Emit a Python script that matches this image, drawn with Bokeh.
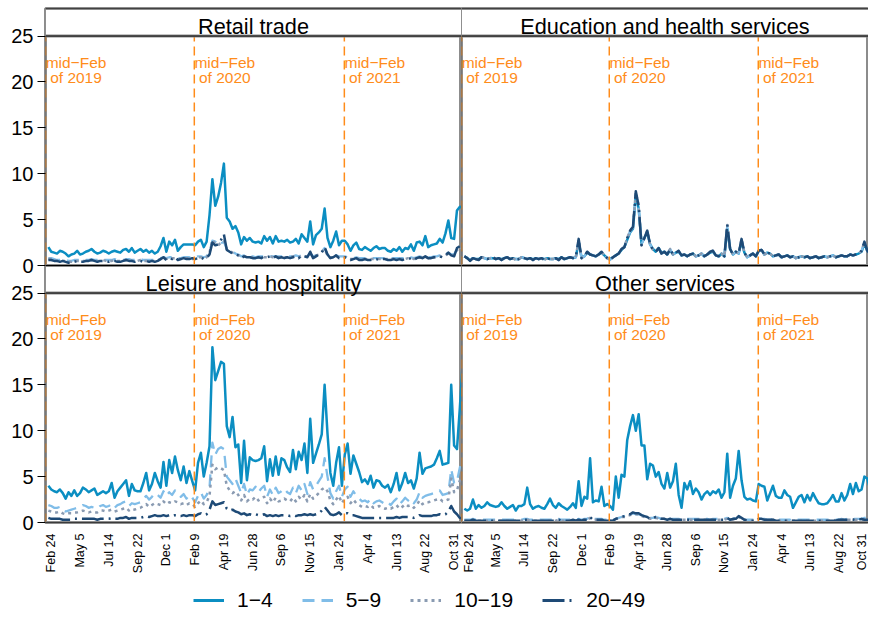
import math
import pandas as pd
from bokeh.plotting import figure
from bokeh.layouts import column, row
from bokeh.models import (Range1d, FixedTicker, Span, BoxAnnotation, Legend,
                          LegendItem, Label)
from bokeh.core.properties import value
from bokeh.embed import file_html
from bokeh.resources import INLINE

# ---------------- data ----------------
start_date = "2019-02-17"          # weekly observations
series_names = ["1\u22124", "5\u22129", "10\u221219", "20\u221249"]
panel_titles = ["Retail trade", "Education and health services",
                "Leisure and hospitality", "Other services"]
tick_dates = ["2019-02-24", "2019-05-05", "2019-07-14", "2019-09-22", "2019-12-01",
              "2020-02-09", "2020-04-19", "2020-06-28", "2020-09-06", "2020-11-15",
              "2021-01-24", "2021-04-04", "2021-06-13", "2021-08-22", "2021-10-31"]
tick_labels = ["Feb 24", "May 5", "Jul 14", "Sep 22", "Dec 1", "Feb 9", "Apr 19",
               "Jun 28", "Sep 6", "Nov 15", "Jan 24", "Apr 4", "Jun 13", "Aug 22", "Oct 31"]
midfeb_dates = ["2019-02-10", "2020-02-07", "2021-02-06"]
midfeb_line1 = ["mid\u2212Feb", "mid\u2212Feb", "mid\u2212Feb"]
midfeb_line2 = ["of 2019", "of 2020", "of 2021"]
y_ticks = [0, 5, 10, 15, 20, 25]

retail_1_4 = [2.0,
 1.5,1.4,1.3,1.6,1.5,1.3,1.0,1.2,1.3,1.6,
 1.2,1.3,1.5,1.6,1.8,1.5,1.3,1.4,1.6,1.5,
 1.3,1.5,1.6,1.5,1.4,1.7,1.8,1.5,1.9,1.4,
 1.6,1.8,1.5,1.7,1.4,1.6,1.3,1.5,2.1,3.0,
 1.5,2.6,2.2,2.8,1.6,2.0,2.3,2.3,2.3,2.3,
 2.2,2.6,2.8,2.0,2.6,5.5,9.4,6.5,7.5,9.0,
 11.1,5.2,4.8,4.0,4.3,3.6,2.3,3.1,2.7,3.0,
 2.6,2.5,2.6,2.4,3.2,2.7,3.1,2.4,3.2,2.6,
 2.7,2.6,2.8,2.5,2.6,2.9,2.4,3.4,3.0,2.6,
 4.8,2.3,3.3,3.6,4.0,6.2,3.0,2.0,2.7,3.7,
 2.2,2.7,2.7,2.3,1.6,2.2,2.5,1.8,1.7,2.0,
 1.8,1.6,1.9,2.1,1.8,1.9,1.9,1.6,1.5,1.8,
 1.6,2.0,1.5,1.9,1.8,2.3,1.6,2.5,2.6,2.2,
 3.2,2.0,2.2,2.3,2.4,2.9,2.5,3.5,4.9,3.0,
 2.9,6.0,6.4,6.3]
retail_5_9 = [0.8,
 0.8,0.7,0.6,0.6,0.6,0.6,0.5,0.5,0.6,0.6,
 0.6,0.6,0.6,0.6,0.7,0.6,0.6,0.6,0.7,0.6,
 0.6,0.6,0.7,0.6,0.6,0.6,0.7,0.7,0.6,0.6,
 0.6,0.7,0.6,0.6,0.6,0.6,0.6,0.7,0.8,0.9,
 0.8,0.9,0.9,0.9,0.8,0.8,0.9,0.9,0.9,0.8,
 0.9,1.0,1.0,0.9,1.0,1.5,2.7,2.6,2.2,2.4,
 2.6,1.8,1.6,1.5,1.3,1.2,1.0,1.1,1.0,1.0,
 1.0,0.9,1.0,1.0,1.0,1.0,1.0,1.0,1.0,1.0,
 1.0,1.0,1.0,1.0,1.0,1.1,1.0,1.1,1.1,1.0,
 1.3,1.0,1.1,1.2,1.5,1.9,1.2,1.0,1.0,1.1,
 1.0,1.0,1.0,0.9,0.8,0.8,0.9,0.8,0.8,0.8,
 0.8,0.8,0.8,0.8,0.8,0.8,0.8,0.8,0.8,0.8,
 0.8,0.8,0.8,0.8,0.9,0.9,0.8,0.9,1.0,0.9,
 1.0,0.9,0.9,1.0,1.0,1.1,1.0,1.2,1.4,1.2,
 1.2,1.8,2.0,1.9]
retail_10_19 = [0.7,
 0.7,0.6,0.5,0.5,0.5,0.5,0.4,0.4,0.5,0.5,
 0.5,0.5,0.5,0.6,0.6,0.5,0.5,0.5,0.6,0.5,
 0.5,0.5,0.6,0.5,0.5,0.5,0.6,0.6,0.5,0.5,
 0.5,0.6,0.5,0.5,0.5,0.5,0.5,0.6,0.7,0.8,
 0.7,0.8,0.8,0.8,0.7,0.7,0.8,0.8,0.8,0.7,
 0.8,0.9,0.9,0.8,0.9,1.4,2.8,2.3,2.2,2.5,
 2.7,1.8,1.6,1.4,1.3,1.1,0.9,1.0,1.0,0.9,
 0.9,0.8,0.9,0.9,0.9,0.9,1.0,0.9,0.9,0.9,
 0.9,0.9,0.9,0.9,1.0,1.0,0.9,1.0,1.0,1.0,
 1.3,0.9,1.1,1.2,1.5,1.8,1.1,0.9,0.9,1.0,
 0.9,0.9,0.9,0.8,0.7,0.7,0.8,0.7,0.7,0.7,
 0.7,0.7,0.7,0.7,0.7,0.7,0.7,0.7,0.7,0.7,
 0.7,0.7,0.7,0.7,0.8,0.8,0.7,0.8,0.9,0.8,
 0.9,0.8,0.8,0.9,0.9,1.0,0.9,1.1,1.3,1.1,
 1.1,1.7,1.9,1.8]
retail_20_49 = [0.6,
 0.6,0.5,0.5,0.4,0.5,0.4,0.3,0.4,0.4,0.5,
 0.4,0.4,0.5,0.5,0.6,0.5,0.4,0.5,0.5,0.5,
 0.4,0.5,0.5,0.4,0.4,0.5,0.6,0.5,0.5,0.4,
 0.5,0.5,0.4,0.5,0.4,0.5,0.4,0.5,0.7,0.9,
 0.6,0.8,0.7,0.9,0.6,0.7,0.8,0.7,0.7,0.8,
 0.7,0.8,0.9,0.7,0.8,1.2,2.5,2.2,2.3,2.8,
 3.4,1.7,1.5,1.3,1.2,1.1,0.8,1.0,0.9,0.9,
 0.8,0.8,0.9,0.8,1.0,0.9,1.0,0.8,1.0,0.8,
 0.9,0.8,0.9,0.8,0.9,1.0,0.8,1.1,1.0,0.9,
 1.5,0.8,1.0,1.2,1.4,2.0,1.2,0.8,0.9,1.1,
 0.8,0.9,0.9,0.8,0.6,0.7,0.8,0.6,0.6,0.7,
 0.6,0.6,0.7,0.7,0.6,0.7,0.7,0.6,0.6,0.7,
 0.6,0.7,0.6,0.7,0.7,0.8,0.6,0.8,0.9,0.8,
 1.0,0.8,0.8,0.9,0.9,1.0,0.9,1.1,1.4,1.1,
 1.0,1.9,2.1,2.0]

educ_1_4 = [1.0,
 0.8,0.6,0.8,0.7,0.7,0.9,0.8,0.7,0.8,0.8,
 0.7,0.8,0.7,0.8,0.9,0.7,0.8,0.7,0.7,0.9,
 0.8,0.7,0.8,0.7,0.8,0.7,0.8,0.7,0.8,0.7,
 0.7,0.8,0.7,0.9,0.7,0.8,0.9,0.8,0.9,2.6,
 0.9,1.0,1.4,1.2,1.1,1.0,1.2,1.4,1.1,0.8,
 0.7,0.9,1.1,1.3,1.7,2.0,2.8,3.6,4.0,7.6,
 6.2,2.4,3.0,3.6,2.3,1.8,1.5,1.9,1.4,1.5,
 1.2,1.7,1.2,1.4,1.5,1.1,1.2,1.0,1.2,1.3,
 1.0,1.1,1.3,1.0,1.2,1.4,1.5,1.1,1.0,1.3,
 1.0,4.0,1.8,1.2,1.5,1.3,2.6,1.4,0.9,1.1,
 1.3,1.0,1.6,1.7,1.2,1.4,1.3,1.0,1.1,1.2,
 0.9,1.0,1.1,0.9,1.0,0.8,0.9,1.0,0.9,1.0,
 0.8,0.9,1.0,0.8,0.9,1.0,0.9,1.0,1.1,0.9,
 1.0,1.1,1.0,1.0,1.2,1.1,1.2,1.3,1.5,2.4,
 1.6,1.3,1.2,1.2]
educ_5_9 = [1.0,
 0.8,0.6,0.8,0.7,0.6,0.9,0.8,0.7,0.8,0.9,
 0.7,0.8,0.6,0.8,0.9,0.7,0.8,0.7,0.7,0.9,
 0.8,0.7,0.8,0.6,0.8,0.7,0.8,0.7,0.8,0.7,
 0.7,0.8,0.6,0.9,0.7,0.8,0.9,0.8,0.9,2.7,
 0.8,1.0,1.5,1.2,1.1,1.0,1.2,1.5,1.1,0.8,
 0.6,0.9,1.1,1.3,1.8,2.0,2.9,3.7,4.1,7.8,
 6.4,2.3,3.0,3.7,2.3,1.7,1.5,1.9,1.3,1.5,
 1.2,1.8,1.2,1.4,1.6,1.1,1.2,1.0,1.2,1.3,
 1.0,1.1,1.3,1.0,1.2,1.5,1.6,1.1,1.0,1.3,
 1.0,4.2,1.8,1.2,1.5,1.3,2.8,1.4,0.9,1.1,
 1.3,1.0,1.6,1.7,1.2,1.4,1.3,1.0,1.1,1.2,
 0.9,1.0,1.1,0.9,1.0,0.8,0.9,1.0,0.9,1.0,
 0.8,0.9,1.0,0.8,0.9,1.0,0.9,1.0,1.1,0.9,
 1.0,1.1,1.0,1.0,1.2,1.1,1.2,1.3,1.6,2.5,
 1.6,1.3,1.2,1.2]
educ_10_19 = [1.0,
 0.8,0.5,0.8,0.7,0.6,0.9,0.8,0.7,0.8,0.9,
 0.7,0.8,0.6,0.8,0.9,0.7,0.8,0.6,0.7,0.9,
 0.8,0.7,0.8,0.6,0.8,0.7,0.8,0.6,0.8,0.7,
 0.7,0.8,0.6,0.9,0.7,0.8,0.9,0.8,0.9,2.8,
 0.8,1.0,1.5,1.2,1.1,1.0,1.2,1.5,1.1,0.8,
 0.6,0.9,1.1,1.3,1.8,2.0,3.0,3.8,4.2,8.0,
 6.5,2.2,3.0,3.8,2.3,1.7,1.5,1.9,1.3,1.5,
 1.2,1.8,1.2,1.4,1.6,1.1,1.2,1.0,1.2,1.3,
 1.0,1.1,1.3,1.0,1.2,1.5,1.6,1.1,1.0,1.3,
 1.0,4.4,1.8,1.2,1.5,1.3,2.9,1.4,0.9,1.1,
 1.3,1.0,1.6,1.7,1.2,1.4,1.3,1.0,1.1,1.2,
 0.9,1.0,1.1,0.9,1.0,0.8,0.9,1.0,0.9,1.0,
 0.8,0.9,1.0,0.8,0.9,1.0,0.9,1.0,1.1,0.9,
 1.0,1.1,1.0,1.0,1.2,1.1,1.2,1.3,1.6,2.6,
 1.6,1.3,1.2,1.2]
educ_20_49 = [1.0,
 0.8,0.5,0.8,0.7,0.6,0.9,0.8,0.7,0.8,0.9,
 0.7,0.8,0.6,0.8,0.9,0.7,0.8,0.6,0.7,0.9,
 0.8,0.7,0.8,0.6,0.8,0.7,0.8,0.6,0.8,0.7,
 0.7,0.8,0.6,0.9,0.7,0.8,0.9,0.8,0.9,2.9,
 0.8,1.0,1.5,1.2,1.1,1.0,1.2,1.5,1.1,0.8,
 0.6,0.9,1.1,1.3,1.8,2.0,3.0,3.8,4.2,8.1,
 6.5,2.2,3.0,3.8,2.3,1.7,1.5,1.9,1.3,1.5,
 1.2,1.8,1.2,1.4,1.6,1.1,1.2,1.0,1.2,1.3,
 1.0,1.1,1.3,1.0,1.2,1.5,1.6,1.1,1.0,1.3,
 1.0,4.5,1.8,1.2,1.5,1.3,2.9,1.4,0.9,1.1,
 1.3,1.0,1.6,1.7,1.2,1.4,1.3,1.0,1.1,1.2,
 0.9,1.0,1.1,0.9,1.0,0.8,0.9,1.0,0.9,1.0,
 0.8,0.9,1.0,0.8,0.9,1.0,0.9,1.0,1.1,0.9,
 1.0,1.1,1.0,1.0,1.2,1.1,1.2,1.3,1.6,2.6,
 1.6,1.3,1.2,1.2]

leisure_1_4 = [4.0,
 3.6,3.4,3.3,3.6,3.2,2.6,3.3,2.9,3.5,2.9,
 3.2,3.8,3.6,3.3,3.5,3.7,3.0,3.2,3.4,3.2,
 3.4,4.3,2.7,3.4,3.8,4.2,4.6,2.9,4.2,3.5,
 3.4,3.4,4.3,5.4,3.5,4.2,5.4,4.5,3.8,6.6,
 4.0,6.8,5.4,7.2,5.7,4.6,6.1,4.3,5.6,4.5,
 3.5,6.5,7.6,5.0,6.5,8.3,19.1,15.5,16.5,17.5,
 17.3,10.5,9.3,11.5,8.2,8.5,4.3,8.9,4.6,7.1,
 6.8,6.7,6.8,7.0,8.3,4.5,6.9,5.1,7.2,5.2,
 7.0,6.8,6.0,5.5,7.9,5.8,7.7,6.8,8.6,5.4,
 11.3,6.5,7.5,8.5,9.6,15.0,9.7,5.4,4.0,6.5,
 8.2,4.0,7.4,8.6,5.3,7.3,6.4,5.5,4.4,4.7,
 4.2,5.1,3.8,4.6,4.5,4.0,3.8,4.1,3.3,4.2,
 5.4,3.5,4.3,5.4,4.3,4.6,3.7,4.8,7.6,5.3,
 5.9,6.0,6.1,6.3,7.0,7.8,6.3,6.4,6.5,15.0,
 8.4,8.0,12.5,17.5]
leisure_5_9 = [1.9,
 1.8,1.6,1.6,1.7,1.3,1.2,1.3,1.4,1.5,1.6,
 1.7,1.9,1.8,1.6,1.7,1.6,1.5,1.8,1.9,1.7,
 1.8,2.0,1.6,1.9,2.0,2.2,2.3,1.8,2.1,2.0,
 2.1,2.2,2.6,2.9,2.5,2.8,3.2,3.0,2.7,3.4,
 2.9,3.3,3.0,3.5,3.2,2.8,3.1,2.6,3.0,2.7,
 2.2,2.9,3.3,2.6,3.0,3.8,8.7,7.4,8.0,8.2,
 8.0,5.0,4.6,4.2,4.8,4.0,3.2,4.2,3.0,3.6,
 3.5,3.9,3.3,3.7,4.0,2.8,3.6,3.0,3.8,3.2,
 3.4,3.7,3.3,3.1,3.8,3.2,4.0,3.5,4.2,3.1,
 4.4,3.6,4.0,4.5,5.0,7.0,5.0,3.2,2.6,3.4,
 4.0,2.8,3.6,3.9,2.8,3.4,2.9,2.6,2.3,2.4,
 2.2,2.6,2.1,2.3,2.4,2.2,2.0,2.2,1.9,2.3,
 2.6,2.0,2.3,2.7,2.4,2.6,2.1,2.5,3.3,2.7,
 2.9,3.0,3.1,3.2,3.3,3.5,3.0,3.1,3.2,5.8,
 4.3,4.5,6.0,7.0]
leisure_10_19 = [1.3,
 1.2,1.1,1.1,1.2,1.0,0.9,1.0,1.0,1.1,1.1,
 1.2,1.3,1.2,1.1,1.2,1.1,1.1,1.3,1.3,1.2,
 1.3,1.4,1.2,1.3,1.4,1.5,1.6,1.3,1.5,1.4,
 1.5,1.6,1.8,2.0,1.7,1.9,2.1,2.0,1.9,2.3,
 2.0,2.2,2.1,2.3,2.2,2.0,2.1,1.9,2.1,2.0,
 1.7,2.1,2.4,2.0,2.2,2.9,6.3,5.8,6.0,5.9,
 5.7,4.0,3.5,3.2,3.4,3.0,2.4,3.0,2.3,2.6,
 2.5,2.8,2.4,2.6,2.8,2.1,2.6,2.2,2.7,2.3,
 2.4,2.6,2.4,2.3,2.7,2.3,2.8,2.5,3.0,2.3,
 3.1,2.6,2.9,3.2,3.6,3.8,3.4,2.4,2.0,2.5,
 2.9,2.1,2.6,2.8,2.1,2.5,2.1,1.9,1.7,1.8,
 1.7,1.9,1.6,1.7,1.8,1.6,1.5,1.6,1.5,1.7,
 1.9,1.5,1.7,2.0,1.8,1.9,1.6,1.9,2.4,2.0,
 2.2,2.2,2.3,2.4,2.5,2.6,2.3,2.4,2.5,4.8,
 3.3,3.5,4.6,4.9]
leisure_20_49 = [0.5,
 0.4,0.4,0.4,0.4,0.3,0.3,0.3,0.3,0.4,0.4,
 0.4,0.4,0.4,0.4,0.4,0.4,0.3,0.4,0.4,0.4,
 0.4,0.5,0.4,0.4,0.5,0.5,0.6,0.4,0.5,0.5,
 0.5,0.5,0.6,0.7,0.6,0.7,0.8,0.7,0.7,0.8,
 0.7,0.8,0.7,0.8,0.8,0.7,0.8,0.7,0.8,0.8,
 0.7,0.9,1.0,0.8,0.9,1.4,2.3,1.9,2.0,2.1,
 2.2,1.5,1.3,1.4,1.2,1.1,0.9,1.0,0.8,0.9,
 0.8,0.9,0.8,0.8,0.9,0.7,0.8,0.7,0.8,0.7,
 0.8,0.8,0.8,0.7,0.8,0.7,0.8,0.8,0.9,0.8,
 0.9,0.8,0.9,1.0,1.3,1.7,1.3,0.9,0.8,0.9,
 1.1,0.8,1.0,1.0,0.8,0.8,0.7,0.6,0.5,0.5,
 0.5,0.5,0.5,0.5,0.5,0.5,0.5,0.5,0.5,0.5,
 0.6,0.5,0.6,0.6,0.6,0.6,0.5,0.6,0.8,0.7,
 0.7,0.7,0.7,0.8,0.8,0.9,0.8,0.9,1.2,1.8,
 1.2,0.9,0.5,0.4]

other_1_4 = [1.5,
 1.3,1.5,2.5,1.5,1.9,1.6,1.8,2.2,1.9,1.8,
 1.7,1.8,2.2,1.8,1.5,1.7,1.9,1.3,1.8,1.8,
 2.0,3.8,2.0,1.5,1.7,1.8,1.6,1.5,2.0,2.6,
 1.9,1.6,2.1,1.8,1.6,1.4,1.7,2.1,1.6,4.5,
 1.8,2.8,2.6,7.0,2.2,2.4,2.3,3.9,1.8,2.0,
 1.8,1.4,5.0,2.7,5.2,5.0,9.0,10.5,11.7,10.0,
 11.8,8.4,8.4,4.7,6.4,6.2,5.0,5.5,4.2,3.7,
 5.4,3.8,4.5,6.4,3.0,1.6,4.3,3.6,4.5,3.1,
 3.7,3.3,2.5,3.1,3.4,3.0,3.4,3.2,3.6,2.7,
 3.3,7.5,2.7,4.0,4.8,7.8,4.6,2.8,2.5,2.6,
 2.4,2.3,4.2,4.0,3.9,2.4,3.2,4.0,2.9,2.7,
 2.7,3.5,3.0,2.8,1.6,2.2,2.8,3.0,2.2,3.0,
 2.4,3.2,2.6,2.1,2.0,2.0,2.1,2.5,3.0,2.3,
 2.3,3.2,2.4,3.0,4.2,3.1,4.3,3.4,3.6,5.0,
 4.8,3.6,4.0,4.2]
other_5_9 = [0.3,
 0.3,0.3,0.4,0.3,0.3,0.3,0.3,0.3,0.3,0.3,
 0.3,0.3,0.3,0.3,0.3,0.3,0.3,0.3,0.3,0.3,
 0.4,0.4,0.3,0.3,0.3,0.3,0.3,0.3,0.3,0.3,
 0.3,0.3,0.4,0.3,0.3,0.3,0.3,0.4,0.3,0.4,
 0.3,0.4,0.4,0.6,0.4,0.4,0.4,0.4,0.3,0.3,
 0.3,0.3,0.4,0.5,0.6,0.7,0.8,0.9,1.0,0.9,
 0.9,0.8,0.7,0.6,0.5,0.5,0.6,0.5,0.4,0.4,
 0.4,0.4,0.4,0.4,0.4,0.3,0.4,0.4,0.4,0.4,
 0.4,0.4,0.3,0.4,0.4,0.3,0.4,0.4,0.4,0.3,
 0.4,0.5,0.3,0.4,0.5,0.6,0.5,0.3,0.3,0.3,
 0.3,0.3,0.4,0.4,0.4,0.3,0.3,0.4,0.3,0.3,
 0.3,0.3,0.3,0.3,0.2,0.3,0.3,0.3,0.3,0.3,
 0.3,0.3,0.3,0.3,0.3,0.3,0.3,0.3,0.4,0.3,
 0.3,0.4,0.3,0.4,0.4,0.4,0.4,0.4,0.4,0.5,
 0.5,0.4,0.4,0.4]
other_10_19 = [0.2,
 0.2,0.2,0.3,0.2,0.2,0.2,0.2,0.2,0.2,0.2,
 0.2,0.2,0.2,0.2,0.2,0.2,0.2,0.2,0.2,0.2,
 0.3,0.3,0.2,0.2,0.2,0.2,0.2,0.2,0.2,0.2,
 0.2,0.2,0.3,0.2,0.2,0.2,0.2,0.3,0.2,0.3,
 0.2,0.3,0.3,0.5,0.3,0.3,0.3,0.3,0.2,0.2,
 0.2,0.2,0.4,0.5,0.6,0.6,0.7,0.8,0.9,0.9,
 0.9,0.7,0.6,0.5,0.4,0.5,0.5,0.4,0.4,0.4,
 0.3,0.4,0.3,0.3,0.3,0.3,0.3,0.3,0.3,0.3,
 0.3,0.3,0.3,0.3,0.3,0.3,0.3,0.3,0.3,0.3,
 0.3,0.4,0.3,0.3,0.4,0.6,0.4,0.3,0.2,0.2,
 0.2,0.2,0.4,0.3,0.3,0.3,0.3,0.3,0.2,0.2,
 0.2,0.2,0.2,0.2,0.2,0.2,0.2,0.2,0.2,0.2,
 0.2,0.2,0.2,0.2,0.2,0.2,0.2,0.2,0.3,0.2,
 0.3,0.3,0.3,0.3,0.3,0.3,0.3,0.3,0.3,0.3,
 0.3,0.3,0.3,0.3]
other_20_49 = [0.2,
 0.2,0.2,0.3,0.2,0.2,0.2,0.2,0.2,0.2,0.2,
 0.2,0.2,0.2,0.2,0.2,0.2,0.2,0.2,0.2,0.2,
 0.3,0.3,0.2,0.2,0.2,0.2,0.2,0.2,0.2,0.2,
 0.2,0.2,0.3,0.2,0.2,0.2,0.2,0.3,0.2,0.3,
 0.2,0.3,0.3,0.6,0.3,0.3,0.3,0.3,0.2,0.2,
 0.2,0.2,0.4,0.5,0.6,0.7,0.8,0.9,1.1,1.0,
 1.0,0.8,0.7,0.6,0.4,0.5,0.6,0.5,0.4,0.4,
 0.3,0.4,0.3,0.3,0.3,0.3,0.3,0.3,0.3,0.3,
 0.3,0.3,0.3,0.3,0.3,0.3,0.3,0.3,0.3,0.3,
 0.3,0.5,0.3,0.4,0.4,0.7,0.5,0.3,0.2,0.2,
 0.2,0.2,0.4,0.4,0.3,0.3,0.3,0.3,0.2,0.2,
 0.2,0.2,0.2,0.2,0.2,0.2,0.2,0.2,0.2,0.2,
 0.2,0.2,0.2,0.2,0.2,0.2,0.2,0.2,0.2,0.2,
 0.3,0.3,0.3,0.3,0.3,0.3,0.4,0.3,0.4,0.3,
 0.3,0.3,0.3,0.3]

panel_data = [
    [retail_1_4, retail_5_9, retail_10_19, retail_20_49],
    [educ_1_4, educ_5_9, educ_10_19, educ_20_49],
    [leisure_1_4, leisure_5_9, leisure_10_19, leisure_20_49],
    [other_1_4, other_5_9, other_10_19, other_20_49],
]

# ---------------- style ----------------
FONT = "Liberation Sans"
ORANGE = "#ff8c1a"
GRAYB = "#8c8c8c"
colors = ["#0b8ec2", "#80bde8", "#8a9bb2", "#1e4a76"]
dashes = ["solid", "12 7", "3 4", "22 5 2 5"]
widths = [2.5, 2.3, 2.5, 2.5]
STRIP_TOP = 28.0      # panel value axis 0..25 plus strip up to 28
PANEL_SPAN = 56.0     # two stacked panels per column
BOTTOM_BORDER = 60


def ms(d):
    return int(pd.Timestamp(d).value // 10**6)


tick_ms = [ms(d) for d in tick_dates]
midfeb_ms = [ms(d) for d in midfeb_dates]


def draw_panel(p, k, rname, xs, xe):
    dates = pd.date_range(start_date, periods=len(panel_data[k][0]), freq="7D")
    xd = [int(t.value // 10**6) for t in dates]
    for s in range(4):
        p.line(xd, panel_data[k][s], line_color=colors[s], line_width=widths[s],
               line_dash=dashes[s], line_join="round", y_range_name=rname)
    p.segment(x0=midfeb_ms, y0=[0] * 3, x1=midfeb_ms, y1=[25] * 3,
              line_color=ORANGE, line_width=1.5, line_dash="9 5", y_range_name=rname)
    p.text(x=midfeb_ms, y=[22.1] * 3, text=midfeb_line1, x_offset=30.5,
           text_align="center", text_baseline="alphabetic", y_range_name=rname,
           text_font=value(FONT), text_font_size=value("15.5px"), text_color=ORANGE)
    p.text(x=midfeb_ms, y=[20.45] * 3, text=midfeb_line2, x_offset=30.5,
           text_align="center", text_baseline="alphabetic", y_range_name=rname,
           text_font=value(FONT), text_font_size=value("15.5px"), text_color=ORANGE)
    # title strip
    p.add_layout(BoxAnnotation(bottom=25, top=STRIP_TOP, fill_color="white",
                               fill_alpha=1.0, line_color=None, y_range_name=rname))
    for loc in (25, 0, STRIP_TOP):
        p.add_layout(Span(location=loc, dimension="width", line_color=GRAYB,
                          line_width=3, y_range_name=rname))
        p.add_layout(Span(location=loc, dimension="width", line_color="black",
                          line_width=1, y_range_name=rname))
    p.add_layout(Label(x=(xs + xe) / 2, y=26.05, text=panel_titles[k],
                       text_align="center", text_baseline="alphabetic",
                       y_range_name=rname,
                       text_font=FONT, text_font_size="21.7px", text_color="black"))


def make_column(k_top, k_bot, left):
    w = 461 if left else 407
    xs = ms("2019-02-10")
    xe = ms("2021-11-18") if left else ms("2021-11-03")
    p = figure(width=w, height=8 + 514 + BOTTOM_BORDER, x_range=Range1d(xs, xe),
               y_range=Range1d(0, PANEL_SPAN),
               toolbar_location=None, output_backend="svg",
               x_axis_type="datetime", x_axis_location="below",
               y_axis_location="left" if left else None,
               min_border_left=45 if left else 0, min_border_right=0,
               min_border_top=8, min_border_bottom=BOTTOM_BORDER)
    p.extra_y_ranges = {"top": Range1d(-STRIP_TOP, PANEL_SPAN - STRIP_TOP)}
    p.grid.visible = False
    p.outline_line_color = GRAYB
    p.outline_line_width = 3
    p.background_fill_color = "white"
    p.border_fill_color = "white"

    draw_panel(p, k_top, "top", xs, xe)
    draw_panel(p, k_bot, "default", xs, xe)
    p.add_layout(BoxAnnotation(fill_alpha=0, line_color="black", line_width=1))

    if left:
        ax = p.yaxis[0]
        yt = list(y_ticks) + [v + STRIP_TOP for v in y_ticks]
        ax.ticker = FixedTicker(ticks=yt)
        ax.major_label_overrides = {t: str(v) for t, v in zip(yt, y_ticks + y_ticks)}
        ax.axis_line_color = None
        ax.major_tick_out = 8
        ax.major_tick_in = 0
        ax.minor_tick_line_color = None
        ax.major_tick_line_color = "black"
        ax.major_label_standoff = 4
        ax.major_label_text_font = FONT
        ax.major_label_text_font_size = "20px"
        ax.major_label_text_color = "black"
    ax = p.xaxis[0]
    ax.ticker = FixedTicker(ticks=tick_ms)
    ax.major_label_overrides = {t: lab for t, lab in zip(tick_ms, tick_labels)}
    ax.major_label_orientation = math.pi / 2
    ax.axis_line_color = None
    ax.major_tick_line_color = None
    ax.minor_tick_line_color = None
    ax.major_label_standoff = 5
    ax.major_label_text_font = FONT
    ax.major_label_text_font_size = "12.5px"
    ax.major_label_text_color = "black"
    return p


p_left = make_column(0, 2, True)
p_right = make_column(1, 3, False)

# legend strip
p_leg = figure(width=868, height=36, toolbar_location=None, output_backend="svg",
               x_range=Range1d(10, 11), y_range=Range1d(10, 11),
               x_axis_location=None, y_axis_location=None,
               min_border_left=0, min_border_right=0, min_border_top=0, min_border_bottom=0)
p_leg.grid.visible = False
p_leg.outline_line_color = None
items = []
for s in range(4):
    r = p_leg.line([0, 1], [0, 1], line_color=colors[s], line_width=widths[s] + 0.5,
                   line_dash=dashes[s])
    items.append(LegendItem(label=series_names[s], renderers=[r]))
legend = Legend(items=items, orientation="horizontal", location=(193, 6),
                glyph_width=31, glyph_height=20, label_height=20, label_standoff=13,
                spacing=29, padding=0, margin=0,
                label_text_font=FONT, label_text_font_size="21px",
                label_text_color="black",
                border_line_color=None, background_fill_alpha=0)
p_leg.add_layout(legend)

layout = column(row(p_left, p_right), p_leg)
open("out.html", "w").write(file_html(layout, INLINE))
